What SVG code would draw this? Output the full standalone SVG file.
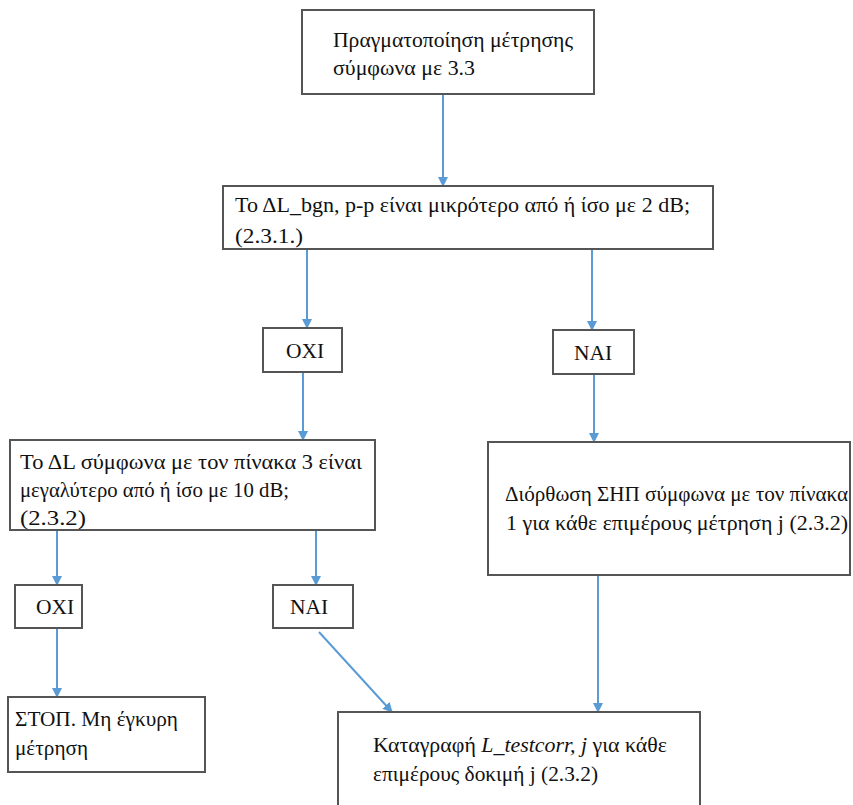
<svg xmlns="http://www.w3.org/2000/svg" width="853" height="805" viewBox="0 0 853 805">
<defs>
<marker id="ah" viewBox="0 0 10 10" refX="9" refY="5" markerWidth="5" markerHeight="5" orient="auto" markerUnits="strokeWidth">
<path d="M0,0 L10,5 L0,10 z" fill="#5b9bd5"/>
</marker>
</defs>
<rect width="853" height="805" fill="#fff"/>
<g id="connectors" stroke="#5b9bd5" stroke-width="2" fill="none" marker-end="url(#ah)">
<line x1="443" y1="95" x2="443" y2="186"/>
<line x1="307" y1="249" x2="307" y2="328"/>
<line x1="592" y1="249" x2="592" y2="330"/>
<line x1="303" y1="372" x2="303" y2="440"/>
<line x1="594" y1="374" x2="594" y2="442"/>
<line x1="57" y1="530" x2="57" y2="585"/>
<line x1="316" y1="530" x2="316" y2="585"/>
<line x1="57" y1="628" x2="57" y2="697"/>
<line x1="319" y1="632" x2="392" y2="712"/>
<line x1="598" y1="575" x2="598" y2="712"/>
</g>
<g id="nodes" font-family="Liberation Serif" font-size="21.5" fill="#111">
<g id="n1">
<rect x="302" y="10" width="292" height="84" fill="#fff" stroke="#555" stroke-width="2"/>
<text x="333" y="47" textLength="240" lengthAdjust="spacingAndGlyphs">Πραγματοποίηση μέτρησης</text>
<text x="333" y="75" textLength="142" lengthAdjust="spacingAndGlyphs">σύμφωνα με 3.3</text>
</g>
<g id="n2">
<rect x="223" y="186" width="490" height="63" fill="#fff" stroke="#555" stroke-width="2"/>
<text x="235" y="212" textLength="455" lengthAdjust="spacingAndGlyphs">Το ΔL_bgn, p-p είναι μικρότερο από ή ίσο με 2 dB;</text>
<text x="235" y="243" textLength="68" lengthAdjust="spacingAndGlyphs">(2.3.1.)</text>
</g>
<g id="n3">
<rect x="263" y="328" width="79" height="44" fill="#fff" stroke="#555" stroke-width="2"/>
<text x="305" y="358" text-anchor="middle">ΟΧΙ</text>
</g>
<g id="n4">
<rect x="553" y="330" width="81" height="44" fill="#fff" stroke="#555" stroke-width="2"/>
<text x="593" y="360" text-anchor="middle">ΝΑΙ</text>
</g>
<g id="n5">
<rect x="10" y="440" width="365" height="90" fill="#fff" stroke="#555" stroke-width="2"/>
<text x="20" y="469" textLength="342" lengthAdjust="spacingAndGlyphs">Το ΔL σύμφωνα με τον πίνακα 3 είναι</text>
<text x="20" y="497" textLength="269" lengthAdjust="spacingAndGlyphs">μεγαλύτερο από ή ίσο με 10 dB;</text>
<text x="20" y="525" textLength="66" lengthAdjust="spacingAndGlyphs">(2.3.2)</text>
</g>
<g id="n6">
<rect x="488" y="442" width="362" height="133" fill="#fff" stroke="#555" stroke-width="2"/>
<text x="505" y="501" textLength="343" lengthAdjust="spacingAndGlyphs">Διόρθωση ΣΗΠ σύμφωνα με τον πίνακα</text>
<text x="506" y="530" textLength="342" lengthAdjust="spacingAndGlyphs">1 για κάθε επιμέρους μέτρηση j (2.3.2)</text>
</g>
<g id="n7">
<rect x="15" y="585" width="67" height="43" fill="#fff" stroke="#555" stroke-width="2"/>
<text x="55" y="614" text-anchor="middle">ΟΧΙ</text>
</g>
<g id="n8">
<rect x="273" y="585" width="80" height="43" fill="#fff" stroke="#555" stroke-width="2"/>
<text x="309" y="614" text-anchor="middle">ΝΑΙ</text>
</g>
<g id="n9">
<rect x="8" y="697" width="197" height="75" fill="#fff" stroke="#555" stroke-width="2"/>
<text x="15" y="726" textLength="163" lengthAdjust="spacingAndGlyphs">ΣΤΟΠ. Μη έγκυρη</text>
<text x="15" y="755" textLength="73" lengthAdjust="spacingAndGlyphs">μέτρηση</text>
</g>
<g id="n10">
<rect x="338" y="712" width="362" height="100" fill="#fff" stroke="#555" stroke-width="2"/>
<text x="373" y="752" textLength="294" lengthAdjust="spacingAndGlyphs">Καταγραφή <tspan font-style="italic">L_testcorr, j</tspan> για κάθε</text>
<text x="373" y="781" textLength="225" lengthAdjust="spacingAndGlyphs">επιμέρους δοκιμή j (2.3.2)</text>
</g>
</g>
</svg>
